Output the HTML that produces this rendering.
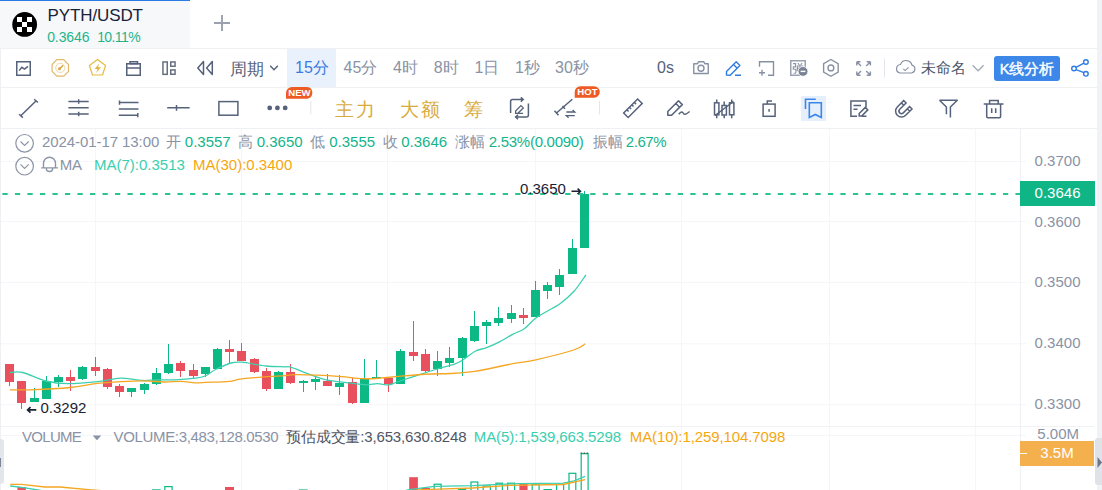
<!DOCTYPE html>
<html><head><meta charset="utf-8">
<style>
html,body{margin:0;padding:0;}
body{width:1102px;height:490px;overflow:hidden;position:relative;background:#fff;font-family:"Liberation Sans",sans-serif;}
.a{position:absolute;white-space:nowrap;line-height:1;}
.hl{position:absolute;height:1px;background:#eef0f4;}
svg{position:absolute;left:0;top:0;}
</style></head><body>
<div style="position:absolute;left:1097px;top:0;width:5px;height:490px;background:#f1f2f5"></div>
<div style="position:absolute;left:0;top:0;width:190px;height:48px;background:#f7f8fa"></div>
<div style="position:absolute;left:0;top:0;width:190px;height:1px;background:#2b7be6"></div>
<div style="position:absolute;left:287px;top:49px;width:49px;height:38px;background:#e9f1fc"></div><div style="position:absolute;left:801px;top:96px;width:25px;height:25px;background:#e6f0fd"></div><div style="position:absolute;left:994px;top:56px;width:66px;height:25px;background:#3d87e8;border-radius:3px"></div>
<svg width="1102" height="490" viewBox="0 0 1102 490">
<line x1="95.5" y1="129" x2="95.5" y2="490" stroke="#f5f6f9" stroke-width="1"/>
<line x1="241.5" y1="129" x2="241.5" y2="490" stroke="#f5f6f9" stroke-width="1"/>
<line x1="387.5" y1="129" x2="387.5" y2="490" stroke="#f5f6f9" stroke-width="1"/>
<line x1="535.5" y1="129" x2="535.5" y2="490" stroke="#f5f6f9" stroke-width="1"/>
<line x1="681.5" y1="129" x2="681.5" y2="490" stroke="#f5f6f9" stroke-width="1"/>
<line x1="829.5" y1="129" x2="829.5" y2="490" stroke="#f5f6f9" stroke-width="1"/>
<line x1="975.5" y1="129" x2="975.5" y2="490" stroke="#f5f6f9" stroke-width="1"/>
<line x1="0" y1="161.5" x2="1026" y2="161.5" stroke="#f5f6f9" stroke-width="1"/>
<line x1="0" y1="221.5" x2="1026" y2="221.5" stroke="#f5f6f9" stroke-width="1"/>
<line x1="0" y1="282.5" x2="1026" y2="282.5" stroke="#f5f6f9" stroke-width="1"/>
<line x1="0" y1="343.8" x2="1026" y2="343.8" stroke="#f5f6f9" stroke-width="1"/>
<line x1="0" y1="404.8" x2="1026" y2="404.8" stroke="#f5f6f9" stroke-width="1"/>
<line x1="0" y1="435.5" x2="1026" y2="435.5" stroke="#f5f6f9" stroke-width="1"/>
<line x1="0" y1="426.5" x2="1094" y2="426.5" stroke="#f0f2f5" stroke-width="1"/>
<line x1="1020.5" y1="129" x2="1020.5" y2="490" stroke="#eef0f3" stroke-width="1"/>
<rect x="9" y="364" width="1" height="22" fill="#e9505d"/>
<rect x="5" y="364" width="9" height="18" fill="#e9505d"/>
<rect x="21" y="381" width="1" height="28" fill="#e9505d"/>
<rect x="17" y="381" width="9" height="22" fill="#e9505d"/>
<rect x="34" y="388" width="1" height="14" fill="#0cb883"/>
<rect x="30" y="398" width="9" height="4" fill="#0cb883"/>
<rect x="46" y="376" width="1" height="23" fill="#0cb883"/>
<rect x="42" y="381" width="9" height="18" fill="#0cb883"/>
<rect x="58" y="375" width="1" height="12" fill="#0cb883"/>
<rect x="54" y="377" width="9" height="5" fill="#0cb883"/>
<rect x="70" y="370" width="1" height="21" fill="#e9505d"/>
<rect x="66" y="377" width="9" height="4" fill="#e9505d"/>
<rect x="82" y="366" width="1" height="14" fill="#0cb883"/>
<rect x="78" y="367" width="9" height="12" fill="#0cb883"/>
<rect x="95" y="357" width="1" height="19" fill="#e9505d"/>
<rect x="91" y="367" width="9" height="4" fill="#e9505d"/>
<rect x="107" y="368" width="1" height="21" fill="#e9505d"/>
<rect x="103" y="369" width="9" height="18" fill="#e9505d"/>
<rect x="119" y="384" width="1" height="13" fill="#e9505d"/>
<rect x="115" y="386" width="9" height="6" fill="#e9505d"/>
<rect x="131" y="388" width="1" height="9" fill="#0cb883"/>
<rect x="127" y="388" width="9" height="4" fill="#0cb883"/>
<rect x="144" y="383" width="1" height="11" fill="#0cb883"/>
<rect x="140" y="384" width="9" height="6" fill="#0cb883"/>
<rect x="156" y="368" width="1" height="17" fill="#0cb883"/>
<rect x="152" y="373" width="9" height="11" fill="#0cb883"/>
<rect x="168" y="344" width="1" height="30" fill="#0cb883"/>
<rect x="164" y="364" width="9" height="9" fill="#0cb883"/>
<rect x="180" y="361" width="1" height="16" fill="#e9505d"/>
<rect x="176" y="363" width="9" height="8" fill="#e9505d"/>
<rect x="193" y="364" width="1" height="14" fill="#e9505d"/>
<rect x="189" y="370" width="9" height="6" fill="#e9505d"/>
<rect x="205" y="367" width="1" height="10" fill="#0cb883"/>
<rect x="201" y="367" width="9" height="7" fill="#0cb883"/>
<rect x="217" y="348" width="1" height="21" fill="#0cb883"/>
<rect x="213" y="349" width="9" height="20" fill="#0cb883"/>
<rect x="229" y="340" width="1" height="23" fill="#e9505d"/>
<rect x="225" y="349" width="9" height="3" fill="#e9505d"/>
<rect x="241" y="343" width="1" height="18" fill="#e9505d"/>
<rect x="237" y="351" width="9" height="10" fill="#e9505d"/>
<rect x="254" y="358" width="1" height="15" fill="#e9505d"/>
<rect x="250" y="359" width="9" height="13" fill="#e9505d"/>
<rect x="266" y="368" width="1" height="23" fill="#e9505d"/>
<rect x="262" y="371" width="9" height="18" fill="#e9505d"/>
<rect x="278" y="371" width="1" height="18" fill="#0cb883"/>
<rect x="274" y="372" width="9" height="17" fill="#0cb883"/>
<rect x="290" y="364" width="1" height="20" fill="#e9505d"/>
<rect x="286" y="372" width="9" height="11" fill="#e9505d"/>
<rect x="303" y="380" width="1" height="12" fill="#0cb883"/>
<rect x="299" y="381" width="9" height="2" fill="#0cb883"/>
<rect x="315" y="376" width="1" height="14" fill="#0cb883"/>
<rect x="311" y="379" width="9" height="3" fill="#0cb883"/>
<rect x="327" y="374" width="1" height="12" fill="#e9505d"/>
<rect x="323" y="381" width="9" height="5" fill="#e9505d"/>
<rect x="339" y="375" width="1" height="20" fill="#0cb883"/>
<rect x="335" y="383" width="9" height="4" fill="#0cb883"/>
<rect x="352" y="378" width="1" height="26" fill="#e9505d"/>
<rect x="348" y="382" width="9" height="21" fill="#e9505d"/>
<rect x="364" y="359" width="1" height="44" fill="#0cb883"/>
<rect x="360" y="379" width="9" height="24" fill="#0cb883"/>
<rect x="376" y="360" width="1" height="18" fill="#0cb883"/>
<rect x="372" y="377" width="9" height="1" fill="#0cb883"/>
<rect x="388" y="378" width="1" height="14" fill="#e9505d"/>
<rect x="384" y="378" width="9" height="6" fill="#e9505d"/>
<rect x="400" y="349" width="1" height="35" fill="#0cb883"/>
<rect x="396" y="351" width="9" height="33" fill="#0cb883"/>
<rect x="413" y="321" width="1" height="40" fill="#e9505d"/>
<rect x="409" y="352" width="9" height="4" fill="#e9505d"/>
<rect x="425" y="349" width="1" height="24" fill="#e9505d"/>
<rect x="421" y="354" width="9" height="17" fill="#e9505d"/>
<rect x="437" y="351" width="1" height="25" fill="#0cb883"/>
<rect x="433" y="361" width="9" height="8" fill="#0cb883"/>
<rect x="449" y="347" width="1" height="20" fill="#0cb883"/>
<rect x="445" y="358" width="9" height="5" fill="#0cb883"/>
<rect x="462" y="337" width="1" height="39" fill="#0cb883"/>
<rect x="458" y="338" width="9" height="20" fill="#0cb883"/>
<rect x="474" y="311" width="1" height="31" fill="#0cb883"/>
<rect x="470" y="326" width="9" height="15" fill="#0cb883"/>
<rect x="486" y="320" width="1" height="24" fill="#0cb883"/>
<rect x="482" y="322" width="9" height="4" fill="#0cb883"/>
<rect x="498" y="307" width="1" height="19" fill="#0cb883"/>
<rect x="494" y="318" width="9" height="5" fill="#0cb883"/>
<rect x="511" y="305" width="1" height="18" fill="#0cb883"/>
<rect x="507" y="313" width="9" height="6" fill="#0cb883"/>
<rect x="523" y="308" width="1" height="16" fill="#e9505d"/>
<rect x="519" y="315" width="9" height="3" fill="#e9505d"/>
<rect x="535" y="281" width="1" height="36" fill="#0cb883"/>
<rect x="531" y="290" width="9" height="27" fill="#0cb883"/>
<rect x="547" y="282" width="1" height="17" fill="#0cb883"/>
<rect x="543" y="285" width="9" height="6" fill="#0cb883"/>
<rect x="559" y="269" width="1" height="26" fill="#0cb883"/>
<rect x="555" y="275" width="9" height="12" fill="#0cb883"/>
<rect x="572" y="239" width="1" height="35" fill="#0cb883"/>
<rect x="568" y="248" width="9" height="26" fill="#0cb883"/>
<rect x="584" y="191" width="1" height="57" fill="#0cb883"/>
<rect x="580" y="194" width="9" height="54" fill="#0cb883"/>
<path d="M10,372.5 C12.12,372.50 16.70,371.08 22.7,372.5 C28.70,373.92 38.55,379.15 46,381 C53.45,382.85 58.40,383.55 67.4,383.6 C76.40,383.65 91.18,382.20 100,381.3 C108.82,380.40 113.22,378.33 120.3,378.2 C127.38,378.07 136.50,380.23 142.5,380.5 C148.50,380.77 150.95,379.92 156.3,379.8 C161.65,379.68 168.15,380.07 174.6,379.8 C181.05,379.53 189.93,378.83 195,378.2 C200.07,377.57 201.57,377.45 205,376 C208.43,374.55 211.27,371.67 215.6,369.5 C219.93,367.33 226.65,364.22 231,363 C235.35,361.78 235.87,361.70 241.7,362.2 C247.53,362.70 258.78,365.23 266,366 C273.22,366.77 280.88,366.60 285,366.8 C289.12,367.00 286.93,366.07 290.7,367.2 C294.47,368.33 301.72,371.50 307.6,373.6 C313.48,375.70 319.10,378.27 326,379.8 C332.90,381.33 342.37,381.97 349,382.8 C355.63,383.63 361.07,384.65 365.8,384.8 C370.53,384.95 373.57,383.68 377.4,383.7 C381.23,383.72 385.53,385.18 388.8,384.9 C392.07,384.62 392.47,383.52 397,382 C401.53,380.48 409.27,377.97 416,375.8 C422.73,373.63 430.98,370.95 437.4,369 C443.82,367.05 450.20,365.63 454.5,364.1 C458.80,362.57 459.68,361.98 463.2,359.8 C466.72,357.62 471.72,353.02 475.6,351 C479.48,348.98 482.52,349.22 486.5,347.7 C490.48,346.18 495.15,344.12 499.5,341.9 C503.85,339.68 508.47,336.60 512.6,334.4 C516.73,332.20 520.30,331.52 524.3,328.7 C528.30,325.88 530.65,321.67 536.6,317.5 C542.55,313.33 553.77,308.07 560,303.7 C566.23,299.33 569.70,296.08 574,291.3 C578.30,286.52 583.83,277.72 585.8,275" fill="none" stroke="#3ccfb0" stroke-width="1.3"/>
<path d="M10,389.8 C13.43,389.80 20.53,390.18 30.6,389.8 C40.67,389.42 58.83,388.60 70.4,387.5 C81.97,386.40 88.23,384.32 100,383.2 C111.77,382.08 130.33,381.00 141,380.8 C151.67,380.60 157.37,381.92 164,382 C170.63,382.08 175.63,381.17 180.8,381.3 C185.97,381.43 190.73,382.62 195,382.8 C199.27,382.98 200.67,382.65 206.4,382.4 C212.13,382.15 223.27,381.92 229.4,381.3 C235.53,380.68 233.93,379.65 243.2,378.7 C252.47,377.75 276.32,376.27 285,375.6 C293.68,374.93 290.00,374.77 295.3,374.7 C300.60,374.63 309.13,374.87 316.8,375.2 C324.47,375.53 333.65,376.12 341.3,376.7 C348.95,377.28 356.25,378.45 362.7,378.7 C369.15,378.95 373.68,378.62 380,378.2 C386.32,377.78 392.05,376.90 400.6,376.2 C409.15,375.50 423.03,374.45 431.3,374 C439.57,373.55 442.95,373.93 450.2,373.5 C457.45,373.07 464.40,373.03 474.8,371.4 C485.20,369.77 502.43,365.63 512.6,363.7 C522.77,361.77 525.63,362.08 535.8,359.8 C545.97,357.52 565.37,352.67 573.6,350 C581.83,347.33 583.27,344.83 585.2,343.8" fill="none" stroke="#f5a623" stroke-width="1.3"/>
<line x1="0" y1="194" x2="1027" y2="194" stroke="#2cc393" stroke-width="2" stroke-dasharray="5.3 7.207" stroke-dashoffset="-2.4"/>
<rect x="17.4" y="487" width="8.5" height="4.0" fill="#e9505d"/><rect x="152.6" y="489.9" width="7.5" height="5.7" fill="none" stroke="#0cb883" stroke-width="1.2"/><rect x="164.8" y="486.6" width="7.3" height="9.0" fill="none" stroke="#0cb883" stroke-width="1.2"/><rect x="225" y="487" width="9.0" height="4.0" fill="#e9505d"/><rect x="298.9" y="489.4" width="8.7" height="1.6" fill="#0cb883"/><rect x="409.2" y="477.2" width="8.7" height="13.8" fill="#e9505d"/><rect x="421.3" y="488" width="8.7" height="3.0" fill="#e9505d"/><rect x="434.2" y="484.2" width="6.9" height="11.4" fill="none" stroke="#0cb883" stroke-width="1.2"/><rect x="458" y="488.6" width="8.2" height="2.4" fill="#0cb883"/><rect x="471.0" y="482.0" width="6.8" height="13.6" fill="none" stroke="#0cb883" stroke-width="1.2"/><rect x="483.2" y="486.0" width="7.2" height="9.6" fill="none" stroke="#0cb883" stroke-width="1.2"/><rect x="495.9" y="483.2" width="6.5" height="12.4" fill="none" stroke="#0cb883" stroke-width="1.2"/><rect x="507.6" y="483.2" width="7.0" height="12.4" fill="none" stroke="#0cb883" stroke-width="1.2"/><rect x="519.4" y="483.6" width="8.2" height="7.4" fill="#e9505d"/><rect x="532.2" y="484.2" width="6.9" height="11.4" fill="none" stroke="#0cb883" stroke-width="1.2"/><rect x="543.4" y="489" width="8.6" height="2.0" fill="#0cb883"/><rect x="556.6" y="484.2" width="7.0" height="11.4" fill="none" stroke="#0cb883" stroke-width="1.2"/><rect x="569.0" y="473.3" width="6.8" height="22.3" fill="none" stroke="#0cb883" stroke-width="1.2"/><rect x="581.2" y="453.7" width="6.9" height="41.9" fill="none" stroke="#0cb883" stroke-width="1.2"/><path d="M580.6,453.1 H588.7" fill="none" stroke="#333" stroke-width="1" stroke-dasharray="1.5 1.5"/><polyline points="10.2,484.3 21.8,484.3 44.9,487 59.9,487 88.5,489.7 120,492" fill="none" stroke="#f5a623" stroke-width="1.3"/><polyline points="10.2,486 21.8,487.4 38,490 50,492" fill="none" stroke="#3ccfb0" stroke-width="1.3"/><polyline points="400,492 409,489.6 434.5,486.3 472.6,485.7 518,483.6 563.3,483.2 574.2,480.8 585,476.3" fill="none" stroke="#3ccfb0" stroke-width="1.3"/><polyline points="410,492 418,489.8 472.6,488 509,485.4 563.3,484.5 585,479.6" fill="none" stroke="#f5a623" stroke-width="1.3"/>
</svg>
<div class="hl" style="left:0;top:48px;width:1097px"></div>
<div class="hl" style="left:0;top:87px;width:1097px"></div>
<div class="hl" style="left:0;top:128px;width:1097px"></div>
<div style="position:absolute;left:1020px;top:181px;width:75px;height:25px;background:#10b585"></div><div class="a" style="left:1034.6px;top:185.4px;font-size:15px;color:#ffffff;">0.3646</div><div style="position:absolute;left:1020px;top:441px;width:74px;height:25px;background:#f5b04e"></div><div style="position:absolute;left:1020px;top:452.8px;width:7px;height:1.2px;background:#fff"></div><div class="a" style="left:1040.3px;top:445.1px;font-size:15px;color:#ffffff;">3.5M</div><div style="position:absolute;left:0;top:48px;width:1px;height:442px;background:#eef0f4"></div><div style="position:absolute;left:-4px;top:438.6px;width:7.6px;height:45.4px;background:#e3e6eb;border-radius:3px"></div><div style="position:absolute;left:0;top:458px;width:1.2px;height:9px;background:#7c8596"></div><div style="position:absolute;left:1095px;top:438px;width:10px;height:47px;background:#dfe2e8;border-radius:3px"></div>
<svg width="1102" height="490" viewBox="0 0 1102 490">
<rect x="16.75" y="61.75" width="13.5" height="13.5" fill="none" stroke="#56627a" stroke-width="1.5"/><polyline points="19.2,70.6 21.8,67.3 24.5,69.1 28,66.3" fill="none" stroke="#56627a" stroke-width="1.5"/><polygon points="68.52,71.31 63.71,76.12 56.89,76.12 52.08,71.31 52.08,64.49 56.89,59.68 63.71,59.68 68.52,64.49" fill="none" stroke="#e2b869" stroke-width="1.2"/><circle cx="60.3" cy="67.9" r="4.6" fill="none" stroke="#f0d9a8" stroke-width="1"/><path d="M59.2,69.2 L63.2,65.2" stroke="#d9a84a" stroke-width="1.6"/><circle cx="59.5" cy="68.8" r="1.5" fill="#d9a84a"/><polygon points="97.50,59.60 105.58,65.47 102.50,74.98 92.50,74.98 89.42,65.47" fill="none" stroke="#e6bb45" stroke-width="1.2" stroke-linejoin="round"/><path d="M99.3,63.6 L94.6,69.1 L97.5,69.1 L96,72.9 L100.9,67.2 L98,67.2 Z" fill="#e2b43a"/><rect x="126.75" y="63.75" width="13.5" height="11.5" fill="none" stroke="#56627a" stroke-width="1.5"/><rect x="130" y="61.75" width="7.5" height="2" fill="none" stroke="#56627a" stroke-width="1.5"/><line x1="126.75" y1="68" x2="140.25" y2="68" fill="none" stroke="#56627a" stroke-width="1.5"/><g fill="none" stroke="#66707f" stroke-width="1.5"><rect x="162.95" y="61.95" width="4.3" height="12.4"/><rect x="170.75" y="61.95" width="4.3" height="4.3"/><rect x="170.75" y="69.95" width="4.3" height="4.3"/></g><polygon points="203.5,61.5 197.8,68 203.5,74.5" fill="none" stroke="#56627a" stroke-width="1.5" stroke-linejoin="round"/><polygon points="212.3,61.5 206.6,68 212.3,74.5" fill="none" stroke="#56627a" stroke-width="1.5" stroke-linejoin="round"/><polyline points="270.2,65.8 274,69.8 277.8,65.8" fill="none" stroke="#56627a" stroke-width="1.4"/><path d="M693.75,63.75 H697.5 L698.5,61.75 H703.8 L704.8,63.75 H708.25 V73.5 H693.75 Z" fill="none" stroke="#8891a3" stroke-width="1.4" stroke-linejoin="round"/><circle cx="701" cy="68.2" r="3" fill="none" stroke="#8891a3" stroke-width="1.4"/><path d="M726.5,75 V71.5 L736.2,61.8 L739.9,65.5 L730.2,75.2 Z M733.5,64.5 L737.2,68.2 M735,75.25 H741" fill="none" stroke="#2f7de1" stroke-width="1.4" stroke-linejoin="round"/><path d="M759.5,66.8 V61.75 H773.5 V75.25 H768" fill="none" stroke="#8891a3" stroke-width="1.4"/><path d="M759,72.7 H765 M762,69.7 V75.7" fill="none" stroke="#8891a3" stroke-width="1.4"/><rect x="790.75" y="60.75" width="14.5" height="14.5" fill="none" stroke="#9aa2b1" stroke-width="1.5"/><path d="M793,63.6 H795.6 V66.8 H793.3 V69.2 H795.9 V72.2 Q795.9,73.2 794.9,73.2 H793.6 M797.4,66 H802.6 V70.6 H797.4 Z M797.4,68.3 H802.6 M800,64.2 V75 M798,63 L798.9,64.6 M802,63 L801.1,64.6" fill="none" stroke="#8e96a6" stroke-width="1.15"/><circle cx="803" cy="71.4" r="4.9" fill="#7a8394" stroke="#fff" stroke-width="0.8"/><line x1="800.6" y1="71.4" x2="805.4" y2="71.4" stroke="#fff" stroke-width="1.4"/><polygon points="830.90,59.50 838.17,63.70 838.17,72.10 830.90,76.30 823.63,72.10 823.63,63.70" fill="none" stroke="#8891a3" stroke-width="1.4"/><circle cx="830.9" cy="67.9" r="2.9" fill="none" stroke="#8891a3" stroke-width="1.4"/><path d="M856.8,61.8 L861,66 M856.8,61.8 H860.5 M856.8,61.8 V65.5 M870.4,61.8 L866.2,66 M870.4,61.8 H866.7 M870.4,61.8 V65.5 M856.8,75.2 L861,71 M856.8,75.2 H860.5 M856.8,75.2 V71.5 M870.4,75.2 L866.2,71 M870.4,75.2 H866.7 M870.4,75.2 V71.5" fill="none" stroke="#8891a3" stroke-width="1.4"/><line x1="884.5" y1="58.5" x2="884.5" y2="77.5" stroke="#e3e6ec" stroke-width="1"/><path d="M900,73 H911.5 A4,4 0 0 0 912,65.2 A6,6 0 0 0 900.5,64.5 A4.3,4.3 0 0 0 900,73 Z" fill="none" stroke="#8891a3" stroke-width="1.2"/><polyline points="903.3,68.8 905.2,70.6 908.5,67.3" fill="none" stroke="#8891a3" stroke-width="1.1"/><polyline points="972.6,65.2 978.1,70.8 983.6,65.2" fill="none" stroke="#a3aab7" stroke-width="1.3"/><g fill="none" stroke="#2f7de1" stroke-width="1.4"><circle cx="1085.9" cy="62" r="2.3"/><circle cx="1074" cy="68.5" r="2.3"/><circle cx="1085.9" cy="73.8" r="2.3"/><path d="M1076,67.3 L1083.9,63.2 M1076,69.7 L1083.9,72.6"/></g><path d="M20.8,115.8 L36.2,100.8 M19.1,114.3 L22.9,117.6 M34.2,99.3 L38,102.5" fill="none" stroke="#56627a" stroke-width="1.5"/><path d="M68.4,101.5 H88.7 M68.4,107.8 H88.7 M68.4,114 H88.7 M78.7,99.3 V103.7 M78.7,111.8 V116.2" fill="none" stroke="#56627a" stroke-width="1.5"/><path d="M118.8,102.6 H138.5 M118.8,109 H138.5 M118.8,115.2 H138.5 M119.5,100.5 V104.7 M137.8,113.1 V117.3" fill="none" stroke="#56627a" stroke-width="1.5"/><path d="M167.2,107.8 H189.6 M176.5,105 V110.8" fill="none" stroke="#56627a" stroke-width="1.5"/><rect x="218.9" y="101.6" width="19" height="13.6" fill="none" stroke="#56627a" stroke-width="1.5" stroke-width="1.7"/><circle cx="269.7" cy="107.9" r="2.4" fill="#56627a"/><circle cx="277.4" cy="107.9" r="2.4" fill="#56627a"/><circle cx="285.2" cy="107.9" r="2.4" fill="#56627a"/><line x1="310.8" y1="101" x2="310.8" y2="114.6" stroke="#e3e6ec" stroke-width="1"/><line x1="599.5" y1="101" x2="599.5" y2="114.6" stroke="#e3e6ec" stroke-width="1"/><path d="M523,99.6 H512.6 Q510.6,99.6 510.6,101.6 V113 M520.8,97.4 L523.2,99.6 L520.8,101.8 M528.4,103.5 V115 Q528.4,117 526.4,117 H515.8 M518,114.8 L515.6,117 L518,119.2" fill="none" stroke="#56627a" stroke-width="1.5" stroke-width="1.4"/><path d="M515.6,113.3 V111 L521,105.6 L523.3,107.9 L517.9,113.3 Z M517.5,113.3 H523" fill="none" stroke="#56627a" stroke-width="1.3"/><path d="M556.5,113 L572.3,99.2 M554.5,110.8 L558.5,115.3 M562.5,106 L565,108.8" fill="none" stroke="#56627a" stroke-width="1.5"/><path d="M566.4,112 H574.8 L572.6,110 M574.8,115.7 H566.4 L568.6,117.7" fill="none" stroke="#56627a" stroke-width="1.3"/><g transform="rotate(-45 632.9 108.2)"><rect x="623" y="105" width="19.8" height="6.4" fill="none" stroke="#56627a" stroke-width="1.5"/><path d="M627.5,105 V107.5 M631,105 V107.5 M634.5,105 V107.5 M638,105 V107.5" fill="none" stroke="#56627a" stroke-width="1.5" stroke-width="1.2"/></g><path d="M667.8,115.3 V111.5 L678.5,100.8 L682.3,104.6 L671.6,115.3 Z M675.8,103.5 L679.6,107.3" fill="none" stroke="#56627a" stroke-width="1.5" stroke-linejoin="round"/><path d="M678.8,114.3 C681,111.5 682.5,111.5 683.5,113.5 C684.5,115.3 686.5,114 689.6,111.5" fill="none" stroke="#56627a" stroke-width="1.5"/><g fill="none" stroke="#56627a" stroke-width="1.5" stroke-width="1.4"><rect x="714.5" y="102.8" width="4.4" height="12"/><rect x="722" y="105.5" width="4.4" height="9.5"/><rect x="729.5" y="102.8" width="4.4" height="12"/><path d="M716.7,99.5 V102.8 M716.7,114.8 V118.3 M724.2,101.5 V105.5 M724.2,115 V118.3 M731.7,99.5 V102.8 M731.7,114.8 V118.3 M715,115.5 L733.5,101.5"/></g><rect x="763.1" y="104.1" width="12" height="12.2" fill="none" stroke="#56627a" stroke-width="1.5"/><path d="M767.3,104 V100.9 H772" fill="none" stroke="#56627a" stroke-width="1.5"/><line x1="769.1" y1="109" x2="769.1" y2="111.8" fill="none" stroke="#56627a" stroke-width="1.5"/><g fill="none" stroke="#3b86ea" stroke-width="1.6"><path d="M805.5,108.9 V99.3 H815.8"/><path d="M809.3,102.8 H821.3 V117.5 L815.3,114.5 L809.3,117.5 Z"/></g><path d="M866,107.5 V100.9 H850.9 V116.2 H857" fill="none" stroke="#56627a" stroke-width="1.5"/><path d="M853.5,105.6 H861 M853.5,109.2 H857.5" fill="none" stroke="#56627a" stroke-width="1.5"/><path d="M859.2,116 V113.5 L865.3,107.4 L867.8,109.9 L861.7,116 Z M862,116.2 H866.5" fill="none" stroke="#56627a" stroke-width="1.5" stroke-width="1.3"/><g transform="translate(-1.3,1.9) rotate(45 903.5 108.5)"><path d="M897.6,100.5 V109.5 A5.9,5.9 0 0 0 909.4,109.5 V100.5 H906 V109.5 A2.5,2.5 0 0 1 901,109.5 V100.5 Z M897.6,103.8 H901 M906,103.8 H909.4" fill="none" stroke="#56627a" stroke-width="1.5" stroke-width="1.4"/></g><path d="M939.5,100.2 H957.3 L950.4,107 V117.5 M946.4,114.2 V107 L939.5,100.2" fill="none" stroke="#56627a" stroke-width="1.5" stroke-linejoin="round"/><path d="M983.7,104 H1003.5 M989.6,104 V100.6 H998.2 V104 M986.7,104 V116.6 Q986.7,117.8 987.9,117.8 H999.4 Q1000.6,117.8 1000.6,116.6 V104 M991.7,108.3 V113 M995.7,108.3 V113" fill="none" stroke="#56627a" stroke-width="1.5"/><circle cx="24.6" cy="143.3" r="8.8" fill="none" stroke="#8d95a6" stroke-width="1.2"/><polyline points="20.5,141.5 24.6,145.5 28.7,141.5" fill="none" stroke="#8d95a6" stroke-width="1.2"/><circle cx="24.6" cy="166.2" r="8.8" fill="none" stroke="#8d95a6" stroke-width="1.2"/><polyline points="20.5,164.39999999999998 24.6,168.39999999999998 28.7,164.39999999999998" fill="none" stroke="#8d95a6" stroke-width="1.2"/><path d="M41.2,167.9 H58 M43.5,167.9 V163.2 A6,6 0 0 1 55.5,163.2 V167.9 M46.3,168.3 A3.2,3.2 0 0 0 52.7,168.3" fill="none" stroke="#8d95a6" stroke-width="1.4"/><path d="M571.5,191.3 H580.5 M577.6,188.6 L580.5,191.3 L577.6,194" fill="none" stroke="#1a2233" stroke-width="1.5"/><path d="M36.3,409.9 H27.6 M30.5,407.1 L27.6,409.9 L30.5,412.7" fill="none" stroke="#1a2233" stroke-width="1.7"/><polygon points="92.6,435.4 101.3,435.4 97,440.2" fill="#8a93a5"/><polygon points="1097.5,457 1102,462.5 1097.5,468" fill="#6d7689"/>
<path d="M222,15 V31 M214,23 H230" stroke="#9aa1ad" stroke-width="1.9"/>
<circle cx="24.65" cy="24.4" r="12.4" fill="#000"/>
<g fill="#fff"><rect x="17" y="17" width="5" height="5"/><rect x="27" y="17" width="5" height="5"/><rect x="22" y="22" width="5" height="5"/><rect x="17" y="27" width="5" height="5"/><rect x="27" y="27" width="5" height="5"/></g>
<path d="M286,98.7 V93 A6,6 0 0 1 292,87 H307.2 A5.9,5.9 0 0 1 307.2,98.7 Z" fill="#ee5a24"/>
<path d="M574.7,97.7 V92 A5.7,5.7 0 0 1 580.4,86.3 H594.1 A5.7,5.7 0 0 1 594.1,97.7 Z" fill="#ee5a24"/>
</svg>
<div class="a" style="left:288.3px;top:87.5px;font-size:9.6px;font-weight:bold;color:#fff">NEW</div>
<div class="a" style="left:577.3px;top:86.8px;font-size:9.6px;font-weight:bold;color:#fff">HOT</div>
<div class="a" style="left:47.6px;top:7.2px;font-size:17px;color:#17223b;letter-spacing:-0.12px;">PYTH/USDT</div><div class="a" style="left:47.2px;top:29.9px;font-size:14px;color:#1fb48c;letter-spacing:-0.1px;">0.3646</div><div class="a" style="left:97.2px;top:29.9px;font-size:14px;color:#1fb48c;letter-spacing:-0.6px;">10.11%</div><div class="a" style="left:230.3px;top:61.2px;font-size:17px;color:#56627a;">周期</div><div class="a" style="left:295.0px;top:59.9px;font-size:16px;color:#3b7be0;">15分</div><div class="a" style="left:343.5px;top:60.1px;font-size:16px;color:#8a93a5;">45分</div><div class="a" style="left:393.0px;top:60.1px;font-size:16px;color:#8a93a5;">4时</div><div class="a" style="left:433.8px;top:60.1px;font-size:16px;color:#8a93a5;">8时</div><div class="a" style="left:474.5px;top:60.1px;font-size:16px;color:#8a93a5;">1日</div><div class="a" style="left:515.0px;top:60.1px;font-size:16px;color:#8a93a5;">1秒</div><div class="a" style="left:555.0px;top:60.1px;font-size:16px;color:#8a93a5;">30秒</div><div class="a" style="left:657.0px;top:60.1px;font-size:16px;color:#56627a;">0s</div><div class="a" style="left:920.5px;top:61.0px;font-size:14.5px;color:#4b5568;">未命名</div><div class="a" style="left:999.8px;top:61.6px;font-size:14.6px;color:#ffffff;-webkit-text-stroke:0.4px #fff;letter-spacing:-0.1px;">K线分析</div><div class="a" style="left:335.0px;top:99.8px;font-size:19.2px;color:#d9ab3c;letter-spacing:2px;">主力</div><div class="a" style="left:400.0px;top:99.8px;font-size:19.2px;color:#d9ab3c;letter-spacing:1.6px;">大额</div><div class="a" style="left:464.0px;top:99.8px;font-size:19.2px;color:#d9ab3c;">筹</div><div class="a" style="left:42.0px;top:134.2px;font-size:15px;color:#8a93a5;letter-spacing:-0.08px;">2024-01-17 13:00</div><div class="a" style="left:165.5px;top:134.2px;font-size:15px;color:#8a93a5;">开</div><div class="a" style="left:184.8px;top:134.2px;font-size:15px;color:#14b48a;">0.3557</div><div class="a" style="left:237.5px;top:134.2px;font-size:15px;color:#8a93a5;">高</div><div class="a" style="left:256.7px;top:134.2px;font-size:15px;color:#14b48a;">0.3650</div><div class="a" style="left:310.0px;top:134.2px;font-size:15px;color:#8a93a5;">低</div><div class="a" style="left:329.2px;top:134.2px;font-size:15px;color:#14b48a;">0.3555</div><div class="a" style="left:382.7px;top:134.2px;font-size:15px;color:#8a93a5;">收</div><div class="a" style="left:401.2px;top:134.2px;font-size:15px;color:#14b48a;">0.3646</div><div class="a" style="left:455.0px;top:134.2px;font-size:15px;color:#8a93a5;">涨幅</div><div class="a" style="left:488.8px;top:134.2px;font-size:15px;color:#14b48a;letter-spacing:-0.28px;">2.53%(0.0090)</div><div class="a" style="left:592.5px;top:134.2px;font-size:15px;color:#8a93a5;">振幅</div><div class="a" style="left:625.8px;top:134.2px;font-size:15px;color:#14b48a;letter-spacing:-0.45px;">2.67%</div><div class="a" style="left:59.8px;top:156.8px;font-size:15px;color:#8a93a5;letter-spacing:-0.3px;">MA</div><div class="a" style="left:94.0px;top:156.8px;font-size:15px;color:#3bcfae;">MA(7):0.3513</div><div class="a" style="left:193.0px;top:156.8px;font-size:15px;color:#f5a70f;">MA(30):0.3400</div><div class="a" style="left:1034.6px;top:152.7px;font-size:15px;color:#8a93a5;">0.3700</div><div class="a" style="left:1034.6px;top:213.5px;font-size:15px;color:#8a93a5;">0.3600</div><div class="a" style="left:1034.6px;top:274.2px;font-size:15px;color:#8a93a5;">0.3500</div><div class="a" style="left:1034.6px;top:335.0px;font-size:15px;color:#8a93a5;">0.3400</div><div class="a" style="left:1034.6px;top:395.7px;font-size:15px;color:#8a93a5;">0.3300</div><div class="a" style="left:520.0px;top:181.3px;font-size:15px;color:#1a2233;">0.3650</div><div class="a" style="left:40.5px;top:399.6px;font-size:15px;color:#1a2233;">0.3292</div><div class="a" style="left:22.0px;top:428.7px;font-size:15px;color:#8a93a5;letter-spacing:-0.7px;">VOLUME</div><div class="a" style="left:113.5px;top:428.7px;font-size:15px;color:#8a93a5;letter-spacing:-0.33px;">VOLUME:3,483,128.0530</div><div class="a" style="left:286.0px;top:428.7px;font-size:15px;color:#4f5563;letter-spacing:-0.15px;">预估成交量:3,653,630.8248</div><div class="a" style="left:473.8px;top:428.7px;font-size:15px;color:#3bcfae;letter-spacing:-0.1px;">MA(5):1,539,663.5298</div><div class="a" style="left:629.8px;top:428.7px;font-size:15px;color:#f5a70f;letter-spacing:-0.1px;">MA(10):1,259,104.7098</div><div class="a" style="left:1037.3px;top:426.1px;font-size:15px;color:#8a93a5;">5.00M</div>
</body></html>
